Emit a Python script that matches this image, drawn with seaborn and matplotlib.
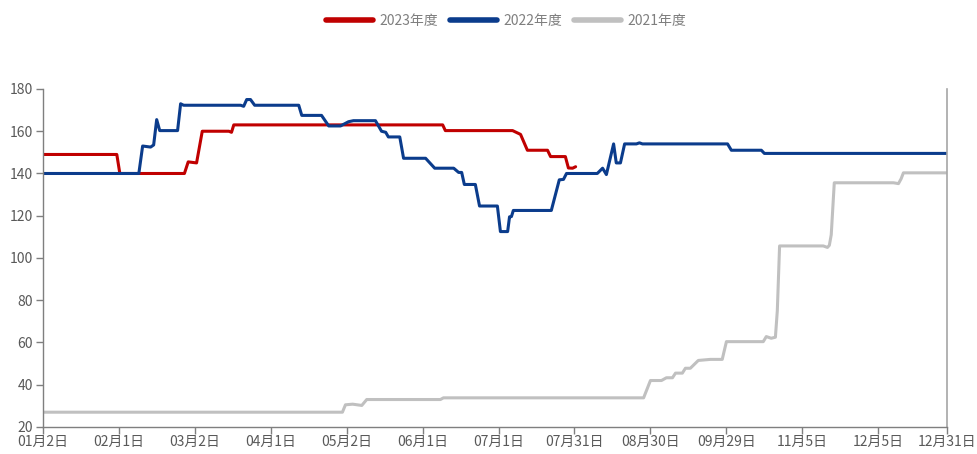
import matplotlib
matplotlib.use("Agg")
import matplotlib.pyplot as plt
import seaborn as sns
import pandas as pd

sns.set_theme(style="white")
plt.rcParams['font.family'] = ['Noto Sans CJK SC', 'DejaVu Sans']

# ---- data (x = trading-day index, y = value) ----
x_2023 = [0, 19.5, 20.3, 37.3, 38.3, 40.5, 42, 49, 49.7, 50.3, 105.3, 106, 123.7, 125.8,
          127.6, 132.9, 133.7, 137.6, 138.4, 139.5, 140.3]
y_2023 = [149, 149, 140, 140, 145.5, 145, 160, 160, 159.5, 163, 163, 160.3, 160.3, 158.5,
          151, 151, 148, 148, 142.6, 142.5, 143.2]

x_2022 = [0, 25.3, 26.3, 28.4, 29.2, 30, 30.8, 35.5, 36.3, 37.1, 52.1, 52.9, 53.7, 54.7, 55.8,
          67.4, 68.2, 73.4, 75.3, 78.4, 80.5, 81.8, 87.6, 89.2, 90.3, 91, 94, 95, 100.8, 103.2,
          108.2, 109.5, 110.3, 111, 113.9, 115, 119.7, 120.5, 122.4, 122.9, 123.4, 123.9,
          133.9, 136, 137.1, 137.9, 146, 147.4, 148.4, 150.3, 151, 152.1, 153.2, 156.3,
          157.1, 157.9, 180.3, 181.3, 189.2, 190, 238]
y_2022 = [140, 140, 153, 152.5, 153.5, 165.5, 160.3, 160.3, 173, 172.3, 172.3, 171.8, 175, 175,
          172.3, 172.3, 167.5, 167.5, 162.5, 162.5, 164.5, 165, 165, 160, 159.5, 157.3, 157.3,
          147.2, 147.2, 142.5, 142.5, 140.5, 140.5, 134.8, 134.8, 124.6, 124.6, 112.5, 112.5,
          119.5, 119.6, 122.5, 122.5, 137, 137.2, 140, 140, 142.5, 139.5, 154, 145, 145, 154,
          154, 154.5, 154, 154, 151, 151, 149.5, 149.5]

x_2021 = [0, 78.9, 79.7, 81.6, 84, 85.3, 104.7, 105.5, 158.2, 160, 162.9, 164.2, 165.8, 166.6,
          168.4, 169.2, 170.5, 172.6, 175.8, 178.9, 180, 189.7, 190.5, 191.8, 192.9, 193.4,
          194, 205.5, 206.6, 207.1, 207.6, 208.4, 224, 225.3, 226, 226.6, 238]
y_2021 = [27, 27, 30.5, 30.8, 30.2, 33, 33, 33.8, 33.8, 42, 42, 43.3, 43.3, 45.5, 45.5, 47.8,
          47.8, 51.5, 52, 52, 60.4, 60.4, 62.8, 62, 62.5, 75, 105.7, 105.7, 105, 106, 111,
          135.6, 135.6, 135.2, 137.5, 140.3, 140.3]

tick_pos = [0, 20, 40, 60, 80, 100, 120, 140, 160, 180, 200, 220, 238]
tick_labels = ["01月2日", "02月1日", "03月2日", "04月1日", "05月2日", "06月1日", "07月1日",
               "07月31日", "08月30日", "09月29日", "11月5日", "12月5日", "12月31日"]

series_names = ["2023年度", "2022年度", "2021年度"]
colors = ["#C00000", "#0B3C8C", "#C0C0C0"]

fig = plt.figure(figsize=(9.78, 4.54), dpi=100)
ax = fig.add_axes([0.0437, 0.0595, 0.968 - 0.0437, 0.804 - 0.0595])

for xs, ys, name, c in zip([x_2023, x_2022, x_2021], [y_2023, y_2022, y_2021],
                           series_names, colors):
    df = pd.DataFrame({"x": xs, "y": ys})
    sns.lineplot(data=df, x="x", y="y", ax=ax, color=c, linewidth=2.2, label=name,
                 sort=False, estimator=None)

ax.set_xlim(0, 238)
ax.set_ylim(20, 180)
ax.set_yticks(range(20, 181, 20))
ax.set_xticks(tick_pos)
ax.set_xticklabels(tick_labels)
ax.set_xlabel("")
ax.set_ylabel("")

tc = "#595959"
ax.tick_params(axis="both", which="both", direction="out", length=5, width=1,
               color="#7F7F7F", labelcolor=tc, labelsize=10, bottom=True, left=True)
ax.tick_params(axis="y", pad=2)
ax.tick_params(axis="x", pad=1)

ax.spines["top"].set_visible(False)
for s in ["left", "bottom"]:
    ax.spines[s].set_color("#7F7F7F")
    ax.spines[s].set_linewidth(1)
ax.spines["right"].set_color("#A6A6A6")
ax.spines["right"].set_linewidth(1.2)
ax.grid(False)

leg = ax.legend(loc="upper center", bbox_to_anchor=(0.5125, 1.26), ncol=3, frameon=False,
                fontsize=10, handlelength=3.4, columnspacing=0.85, handletextpad=0.45)
for line in leg.get_lines():
    line.set_linewidth(4)
for t in leg.get_texts():
    t.set_color("#7F7F7F")

fig.savefig("out.png", dpi=100)
